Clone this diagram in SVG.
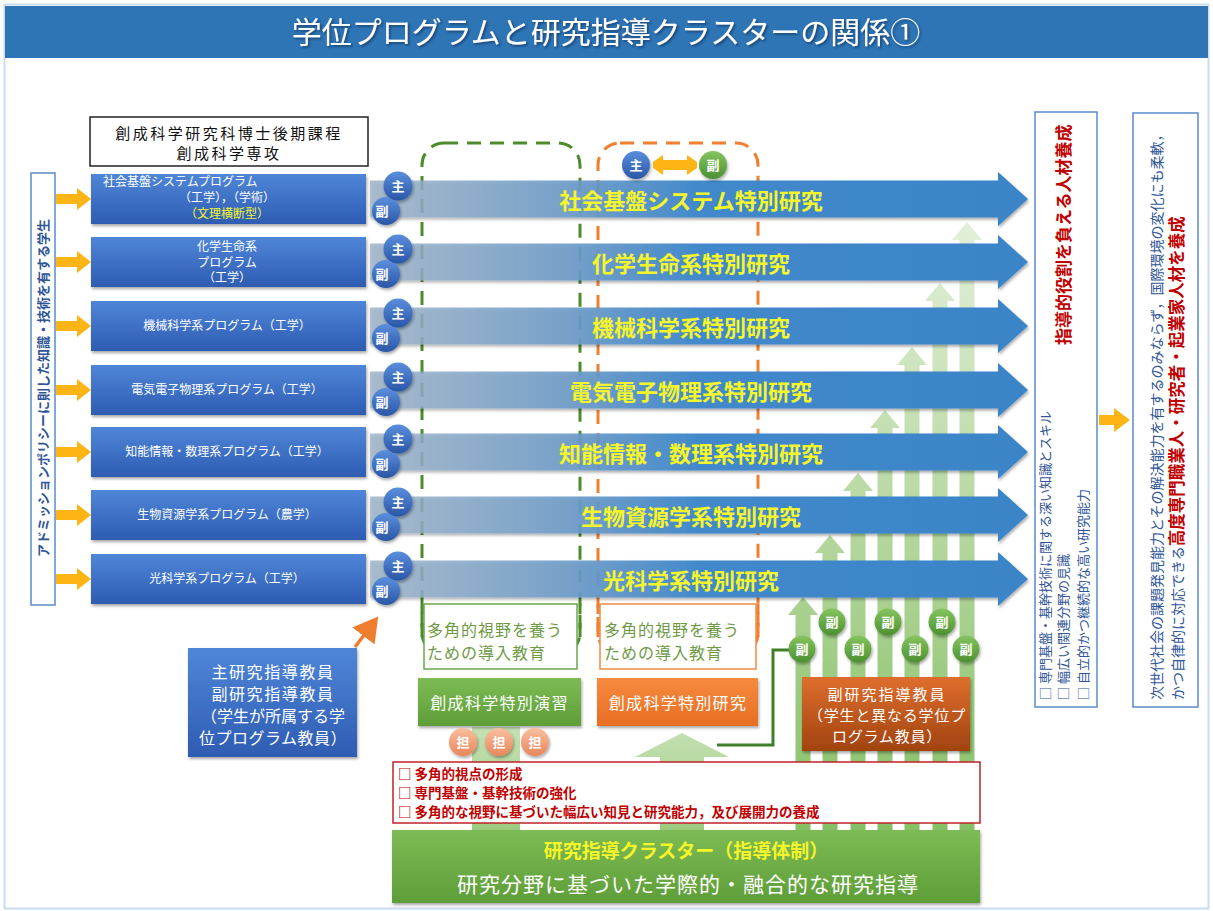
<svg xmlns="http://www.w3.org/2000/svg" xmlns:xlink="http://www.w3.org/1999/xlink" width="1213" height="911" viewBox="0 0 1213 911">
<defs>
<style>
.jp{font-family:"Noto Sans CJK JP","Noto Sans CJK SC",sans-serif;}
.pg{font-size:12px;fill:#fff;text-anchor:middle;}
.al{font-size:22px;font-weight:bold;fill:#F5F52A;text-anchor:middle;}
.ct{font-size:13px;fill:#fff;text-anchor:middle;font-weight:bold;}
.bt{fill:#2F5597;}
.rd{fill:#C00000;font-weight:bold;}
.yl{fill:#FDB515;}
</style>
<linearGradient id="gArrow" gradientUnits="userSpaceOnUse" x1="370" y1="0" x2="1028" y2="0">
<stop offset="0" stop-color="#9DB3C8" stop-opacity="0.8"/>
<stop offset="0.3" stop-color="#6E9CC8" stop-opacity="0.9"/>
<stop offset="0.5" stop-color="#4289CB"/>
<stop offset="1" stop-color="#3A84C8"/>
</linearGradient>
<linearGradient id="gBox" x1="0" y1="0" x2="0" y2="1">
<stop offset="0" stop-color="#4F86D8"/>
<stop offset="1" stop-color="#2E5CB2"/>
</linearGradient>
<linearGradient id="gBlueC" x1="0" y1="0" x2="0" y2="1">
<stop offset="0" stop-color="#5A8FDD"/>
<stop offset="1" stop-color="#2A56A6"/>
</linearGradient>
<linearGradient id="gGreenC" x1="0" y1="0" x2="0" y2="1">
<stop offset="0" stop-color="#86C560"/>
<stop offset="1" stop-color="#4B902F"/>
</linearGradient>
<linearGradient id="gPeach" x1="0" y1="0" x2="0" y2="1">
<stop offset="0" stop-color="#F9C0A0"/>
<stop offset="1" stop-color="#E8865A"/>
</linearGradient>
<linearGradient id="gGreenBox" x1="0" y1="0" x2="0" y2="1">
<stop offset="0" stop-color="#7DBB55"/>
<stop offset="1" stop-color="#5E9E38"/>
</linearGradient>
<linearGradient id="gOrangeBox" x1="0" y1="0" x2="0" y2="1">
<stop offset="0" stop-color="#F58A3E"/>
<stop offset="1" stop-color="#E86E24"/>
</linearGradient>
<linearGradient id="gBrown" x1="0" y1="0" x2="0" y2="1">
<stop offset="0" stop-color="#DE6E2E"/>
<stop offset="1" stop-color="#A1430F"/>
</linearGradient>
<linearGradient id="gCol" gradientUnits="userSpaceOnUse" x1="0" y1="830" x2="0" y2="220">
<stop offset="0" stop-color="#86C066"/>
<stop offset="0.5" stop-color="#B5D79F"/>
<stop offset="1" stop-color="#E3F0DA"/>
</linearGradient>
<linearGradient id="gPale" gradientUnits="userSpaceOnUse" x1="0" y1="830" x2="0" y2="730">
<stop offset="0" stop-color="#9CCB80"/>
<stop offset="1" stop-color="#C4E0B2"/>
</linearGradient>
<filter id="sh" x="-10%" y="-10%" width="130%" height="140%">
<feDropShadow dx="1" dy="2" stdDeviation="1.5" flood-color="#000" flood-opacity="0.35"/>
</filter>
<filter id="tsh" x="-5%" y="-20%" width="110%" height="150%">
<feDropShadow dx="1.5" dy="1.5" stdDeviation="1" flood-color="#0A2A50" flood-opacity="0.7"/>
</filter>
<marker id="mOr" markerWidth="8" markerHeight="8" refX="5" refY="4" orient="auto" markerUnits="strokeWidth">
<path d="M0,0 L7,4 L0,8 Z" fill="#F07C30"/>
</marker>
</defs>

<!-- frame and title -->
<rect x="4.5" y="4.5" width="1204" height="904" fill="#FFFFFF" stroke="#C9DDF0" stroke-width="2"/>
<g id="title">
<rect x="5" y="6" width="1203" height="52" fill="#2E75B6"/>
<text class="jp" x="606" y="43" font-size="30" fill="#FFFFFF" text-anchor="middle" filter="url(#tsh)">学位プログラムと研究指導クラスターの関係①</text>
</g>

<!-- green staircase columns -->
<g id="columns" fill="url(#gCol)">
<path d="M795.5 830 V615 H788 L803 597 L818 615 H810.5 V830 Z"/>
<path d="M822.5 830 V553 H815 L830 535 L845 553 H837.5 V830 Z"/>
<path d="M850.5 830 V491 H843 L858 473 L873 491 H865.5 V830 Z"/>
<path d="M877.5 830 V428 H870 L885 410 L900 428 H892.5 V830 Z"/>
<path d="M904.5 830 V365 H897 L912 347 L927 365 H919.5 V830 Z"/>
<path d="M932.5 830 V301 H925 L940 283 L955 301 H947.5 V830 Z"/>
<path d="M959.5 830 V240 H952 L967 222 L982 240 H974.5 V830 Z"/>
</g>
<g id="pale-supports" fill="url(#gPale)">
<rect x="472" y="727" width="48" height="103"/>
<path d="M660 830 V757 H635 L682 733 L729 757 H704 V830 Z"/>
</g>

<!-- dashed groupings -->
<g id="dashed-groups" fill="none" stroke-width="3" stroke-dasharray="14 9">
<rect x="422" y="143" width="158" height="512" rx="22" stroke="#4C8C2B"/>
<rect x="598" y="143" width="160" height="512" rx="22" stroke="#F07F2F"/>
</g>

<!-- header -->
<g id="header">
<rect x="90" y="117" width="278" height="49" fill="#FFFFFF" stroke="#222" stroke-width="1.5"/>
<text class="jp" x="229" y="139" font-size="15" fill="#111" text-anchor="middle" letter-spacing="2.5">創成科学研究科博士後期課程</text>
<text class="jp" x="229" y="159" font-size="15" fill="#111" text-anchor="middle" letter-spacing="2.5">創成科学専攻</text>
</g>

<!-- admission policy -->
<g id="admission">
<rect x="31" y="173" width="24" height="432" fill="#FFFFFF" stroke="#5B8BD0" stroke-width="1.5"/>
<text class="jp bt" transform="translate(48,388) rotate(-90)" x="0" y="0" font-size="13" font-weight="bold" text-anchor="middle">アドミッションポリシーに則した知識・技術を有する学生</text>
</g>

<!-- connectors -->
<g id="connectors">
<g class="yl">
<path d="M56 194 H77 V188 L91 199 L77 210 V204 H56 Z"/>
<path d="M56 257 H77 V251 L91 262 L77 273 V267 H56 Z"/>
<path d="M56 321 H77 V315 L91 326 L77 337 V331 H56 Z"/>
<path d="M56 385 H77 V379 L91 390 L77 401 V395 H56 Z"/>
<path d="M56 447 H77 V441 L91 452 L77 463 V457 H56 Z"/>
<path d="M56 510 H77 V504 L91 515 L77 526 V520 H56 Z"/>
<path d="M56 574 H77 V568 L91 579 L77 590 V584 H56 Z"/>
<path d="M1099 415 H1114 V408 L1130 420 L1114 432 V425 H1099 Z"/>
<path d="M1058.5 381 V364 H1052 L1063 350 L1074 364 H1067.5 V381 Z"/>
<path d="M653 162 L663 155 V160 H687 V155 L697 162 V168 L687 175 V170 H663 V175 L653 168 Z"/>
</g>
<path d="M355 647 L374 622" stroke="#F07C30" stroke-width="3.5" fill="none" marker-end="url(#mOr)"/>
<path d="M717 745 H773 V650 H790" stroke="#3F7F2A" stroke-width="3" fill="none"/>
</g>

<!-- big research arrows -->
<g id="research-arrows" fill="url(#gArrow)" filter="url(#sh)">
<path d="M370 180.5 H998 V172 L1028 199 L998 226 V217.5 H370 Z"/>
<path d="M370 243.5 H998 V235 L1028 262 L998 289 V280.5 H370 Z"/>
<path d="M370 307.5 H998 V299 L1028 326 L998 353 V344.5 H370 Z"/>
<path d="M370 371.5 H998 V363 L1028 390 L998 417 V408.5 H370 Z"/>
<path d="M370 433.5 H998 V425 L1028 452 L998 479 V470.5 H370 Z"/>
<path d="M370 496.5 H998 V488 L1028 515 L998 542 V533.5 H370 Z"/>
<path d="M370 560.5 H998 V552 L1028 579 L998 606 V597.5 H370 Z"/>
</g>
<g id="research-labels" class="jp al">
<text x="691" y="209">社会基盤システム特別研究</text>
<text x="691" y="272">化学生命系特別研究</text>
<text x="691" y="336">機械科学系特別研究</text>
<text x="691" y="400">電気電子物理系特別研究</text>
<text x="691" y="462">知能情報・数理系特別研究</text>
<text x="691" y="525">生物資源学系特別研究</text>
<text x="691" y="589">光科学系特別研究</text>
</g>

<!-- program boxes -->
<g id="program-1"><rect x="91" y="174" width="275" height="50" fill="url(#gBox)" filter="url(#sh)"/>
<text class="jp pg" x="103" y="186" style="text-anchor:start">社会基盤システムプログラム</text>
<text class="jp pg" x="227" y="202">（工学），（学術）</text>
<text class="jp pg" x="227" y="218" style="fill:#F5F52A">（文理横断型）</text></g>
<g id="program-2"><rect x="91" y="237" width="275" height="50" fill="url(#gBox)" filter="url(#sh)"/>
<text class="jp pg" x="227" y="251">化学生命系</text>
<text class="jp pg" x="227" y="267">プログラム</text>
<text class="jp pg" x="227" y="282">（工学）</text></g>
<g id="program-3"><rect x="91" y="301" width="275" height="50" fill="url(#gBox)" filter="url(#sh)"/>
<text class="jp pg" x="227" y="330">機械科学系プログラム（工学）</text></g>
<g id="program-4"><rect x="91" y="365" width="275" height="50" fill="url(#gBox)" filter="url(#sh)"/>
<text class="jp pg" x="227" y="394">電気電子物理系プログラム（工学）</text></g>
<g id="program-5"><rect x="91" y="427" width="275" height="50" fill="url(#gBox)" filter="url(#sh)"/>
<text class="jp pg" x="227" y="456">知能情報・数理系プログラム（工学）</text></g>
<g id="program-6"><rect x="91" y="490" width="275" height="50" fill="url(#gBox)" filter="url(#sh)"/>
<text class="jp pg" x="227" y="519">生物資源学系プログラム（農学）</text></g>
<g id="program-7"><rect x="91" y="554" width="275" height="50" fill="url(#gBox)" filter="url(#sh)"/>
<text class="jp pg" x="227" y="583">光科学系プログラム（工学）</text></g>

<!-- supervisor circles on rows -->
<g id="row-circles" class="jp">
<g filter="url(#sh)">
<circle cx="386" cy="211" r="14" fill="url(#gBlueC)"/><circle cx="398" cy="186" r="14.5" fill="url(#gBlueC)"/>
<circle cx="386" cy="274" r="14" fill="url(#gBlueC)"/><circle cx="398" cy="249" r="14.5" fill="url(#gBlueC)"/>
<circle cx="386" cy="338" r="14" fill="url(#gBlueC)"/><circle cx="398" cy="313" r="14.5" fill="url(#gBlueC)"/>
<circle cx="386" cy="402" r="14" fill="url(#gBlueC)"/><circle cx="398" cy="377" r="14.5" fill="url(#gBlueC)"/>
<circle cx="386" cy="464" r="14" fill="url(#gBlueC)"/><circle cx="398" cy="439" r="14.5" fill="url(#gBlueC)"/>
<circle cx="386" cy="527" r="14" fill="url(#gBlueC)"/><circle cx="398" cy="502" r="14.5" fill="url(#gBlueC)"/>
<circle cx="386" cy="591" r="14" fill="url(#gBlueC)"/><circle cx="398" cy="566" r="14.5" fill="url(#gBlueC)"/>
</g>
<text class="ct" x="382" y="216">副</text><text class="ct" x="398" y="191">主</text>
<text class="ct" x="382" y="279">副</text><text class="ct" x="398" y="254">主</text>
<text class="ct" x="382" y="343">副</text><text class="ct" x="398" y="318">主</text>
<text class="ct" x="382" y="407">副</text><text class="ct" x="398" y="382">主</text>
<text class="ct" x="382" y="469">副</text><text class="ct" x="398" y="444">主</text>
<text class="ct" x="382" y="532">副</text><text class="ct" x="398" y="507">主</text>
<text class="ct" x="382" y="596">副</text><text class="ct" x="398" y="571">主</text>
</g>

<!-- main/sub pair at top -->
<g id="pair" class="jp">
<circle cx="636" cy="165" r="14" fill="url(#gBlueC)" filter="url(#sh)"/>
<text class="ct" x="636" y="170">主</text>
<circle cx="713" cy="165" r="14" fill="url(#gGreenC)" filter="url(#sh)"/>
<text class="ct" x="713" y="170">副</text>
</g>

<!-- introductory education boxes -->
<g id="intro-green" class="jp">
<rect x="424" y="604" width="153" height="65" fill="#FFFFFF" stroke="#6AA84F" stroke-width="1.5"/>
<text x="427" y="636" font-size="16" fill="#6E9A45" letter-spacing="1">多角的視野を養う</text>
<text x="427" y="659" font-size="16" fill="#6E9A45" letter-spacing="1">ための導入教育</text>
</g>
<g id="intro-orange" class="jp">
<rect x="600" y="604" width="156" height="65" fill="#FFFFFF" stroke="#F08A45" stroke-width="1.5"/>
<text x="604" y="636" font-size="16" fill="#6E9A45" letter-spacing="1">多角的視野を養う</text>
<text x="604" y="659" font-size="16" fill="#6E9A45" letter-spacing="1">ための導入教育</text>
</g>
<g fill="none" stroke-width="3" stroke-dasharray="14 9">
<path d="M422 604 V640" stroke="#4C8C2B" stroke-dashoffset="4"/>
<path d="M580 604 V640" stroke="#4C8C2B" stroke-dashoffset="4"/>
<path d="M598 604 V640" stroke="#F07F2F" stroke-dashoffset="4"/>
<path d="M758 604 V640" stroke="#F07F2F" stroke-dashoffset="4"/>
</g>

<g id="seminar" class="jp">
<rect x="418" y="678" width="163" height="48" fill="url(#gGreenBox)" filter="url(#sh)"/>
<text x="499.5" y="709" font-size="16" fill="#FFFFFF" text-anchor="middle" letter-spacing="1.3">創成科学特別演習</text>
</g>
<g id="special-research" class="jp">
<rect x="597" y="678" width="161" height="48" fill="url(#gOrangeBox)" filter="url(#sh)"/>
<text x="678" y="709" font-size="16" fill="#FFFFFF" text-anchor="middle" letter-spacing="1.3">創成科学特別研究</text>
</g>

<g id="tan-circles" class="jp">
<circle cx="463" cy="742" r="14" fill="url(#gPeach)" filter="url(#sh)"/>
<circle cx="499" cy="742" r="14" fill="url(#gPeach)" filter="url(#sh)"/>
<circle cx="535" cy="742" r="14" fill="url(#gPeach)" filter="url(#sh)"/>
<text class="ct" x="463" y="747">担</text>
<text class="ct" x="499" y="747">担</text>
<text class="ct" x="535" y="747">担</text>
</g>

<!-- green sub supervisors -->
<g id="sub-circles" class="jp">
<g filter="url(#sh)" fill="url(#gGreenC)">
<circle cx="832" cy="622" r="13.5"/><circle cx="888" cy="622" r="13.5"/><circle cx="942" cy="622" r="13.5"/>
<circle cx="802" cy="649" r="13.5"/><circle cx="858" cy="649" r="13.5"/><circle cx="915" cy="649" r="13.5"/><circle cx="966" cy="649" r="13.5"/>
</g>
<text class="ct" x="832" y="627">副</text><text class="ct" x="888" y="627">副</text><text class="ct" x="942" y="627">副</text>
<text class="ct" x="802" y="654">副</text><text class="ct" x="858" y="654">副</text><text class="ct" x="915" y="654">副</text><text class="ct" x="966" y="654">副</text>
</g>

<g id="sub-supervisor" class="jp">
<rect x="802" y="677" width="168" height="74" fill="url(#gBrown)" filter="url(#sh)"/>
<text x="887" y="700" font-size="15" fill="#FFFFFF" text-anchor="middle" letter-spacing="2">副研究指導教員</text>
<text x="887" y="721" font-size="15" fill="#FFFFFF" text-anchor="middle" letter-spacing="0.8">（学生と異なる学位プ</text>
<text x="887" y="742" font-size="15" fill="#FFFFFF" text-anchor="middle" letter-spacing="0.8">ログラム教員）</text>
</g>

<g id="main-supervisor" class="jp">
<rect x="188" y="648" width="169" height="109" fill="url(#gBox)" filter="url(#sh)"/>
<text x="273" y="678" font-size="16" fill="#FFFFFF" text-anchor="middle" letter-spacing="1.6">主研究指導教員</text>
<text x="273" y="700" font-size="16" fill="#FFFFFF" text-anchor="middle" letter-spacing="1.6">副研究指導教員</text>
<text x="273" y="722" font-size="16" fill="#FFFFFF" text-anchor="middle">（学生が所属する学</text>
<text x="273" y="744" font-size="16" fill="#FFFFFF" text-anchor="middle" letter-spacing="0.5">位プログラム教員）</text>
</g>

<!-- outcomes box -->
<g id="outcomes" class="jp">
<rect x="393" y="762" width="587" height="61" fill="#FFFFFF" stroke="#C0202A" stroke-width="1.5"/>
<text class="rd" x="398" y="779" font-size="13.5">□ 多角的視点の形成</text>
<text class="rd" x="398" y="798" font-size="13.5">□ 専門基盤・基幹技術の強化</text>
<text class="rd" x="398" y="817" font-size="13.5">□ 多角的な視野に基づいた幅広い知見と研究能力，及び展開力の養成</text>
</g>

<!-- cluster box -->
<g id="cluster" class="jp">
<rect x="392" y="830" width="588" height="73" fill="url(#gGreenBox)" filter="url(#sh)"/>
<text x="686" y="858" font-size="19" font-weight="bold" fill="#F5F52A" text-anchor="middle">研究指導クラスター（指導体制）</text>
<text x="688" y="892" font-size="21" fill="#FFFFFF" text-anchor="middle" letter-spacing="1">研究分野に基づいた学際的・融合的な研究指導</text>
</g>

<!-- right boxes -->
<g id="skills" class="jp">
<rect x="1035" y="112" width="62" height="595" fill="#FFFFFF" stroke="#5B8BD0" stroke-width="1.5"/>
<g transform="translate(1050,700) rotate(-90)"><text class="bt" font-size="13">□ 専門基盤・基幹技術に関する深い知識とスキル</text></g>
<g transform="translate(1068,700) rotate(-90)"><text class="bt" font-size="13">□ 幅広い関連分野の見識</text></g>
<g transform="translate(1088,700) rotate(-90)"><text class="bt" font-size="13">□ 自立的かつ継続的な高い研究能力</text></g>
<g transform="translate(1070,345) rotate(-90)"><text class="rd" font-size="17">指導的役割を負える人材養成</text></g>
</g>
<g id="goal" class="jp">
<rect x="1133" y="113" width="65" height="594" fill="#FFFFFF" stroke="#5B8BD0" stroke-width="1.5"/>
<g transform="translate(1162,700) rotate(-90)"><text class="bt" font-size="14">次世代社会の課題発見能力とその解決能力を有するのみならず，国際環境の変化にも柔軟，</text></g>
<g transform="translate(1183,700) rotate(-90)"><text class="bt" font-size="14">かつ自律的に対応できる<tspan class="rd" font-size="16.5">高度専門職業人・研究者・起業家人材を養成</tspan></text></g>
</g>
</svg>
